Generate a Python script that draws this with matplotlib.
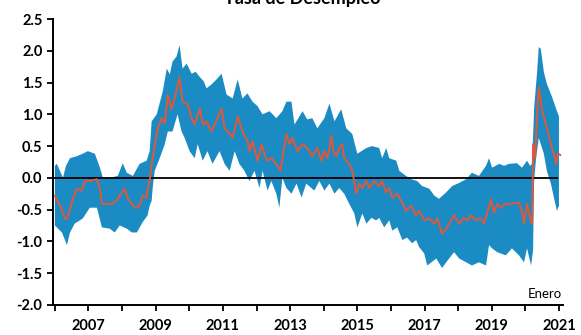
import matplotlib.pyplot as plt

plt.rcParams['font.family'] = ['Lato', 'DejaVu Sans']
plt.rcParams['axes.unicode_minus'] = False

# central estimate (decimal year, value)
mid_t = [2006.00, 2006.15, 2006.30, 2006.36, 2006.50, 2006.65, 2006.80, 2006.89, 2007.04, 2007.25,
         2007.34, 2007.40, 2007.57, 2007.72, 2007.87, 2008.08, 2008.17, 2008.38, 2008.52, 2008.61,
         2008.73, 2008.76, 2008.82, 2008.88, 2008.97, 2009.06, 2009.18, 2009.27, 2009.36, 2009.47,
         2009.56, 2009.71, 2009.80, 2009.95, 2010.07, 2010.16, 2010.31, 2010.40, 2010.51, 2010.66,
         2010.75, 2010.96, 2011.05, 2011.20, 2011.29, 2011.44, 2011.58, 2011.73, 2011.79, 2011.88,
         2012.03, 2012.15, 2012.30, 2012.44, 2012.59, 2012.71, 2012.89, 2012.98, 2013.07, 2013.22,
         2013.37, 2013.51, 2013.66, 2013.81, 2013.93, 2014.02, 2014.11, 2014.23, 2014.29, 2014.38,
         2014.46, 2014.55, 2014.61, 2014.76, 2014.85, 2014.97, 2015.06, 2015.15, 2015.27, 2015.36,
         2015.50, 2015.65, 2015.74, 2015.86, 2015.95, 2016.04, 2016.19, 2016.34, 2016.45, 2016.60,
         2016.75, 2016.84, 2016.99, 2017.14, 2017.29, 2017.38, 2017.52, 2017.67, 2017.88, 2018.03,
         2018.18, 2018.27, 2018.38, 2018.53, 2018.68, 2018.77, 2018.86, 2018.98, 2019.07, 2019.16,
         2019.28, 2019.42, 2019.60, 2019.81, 2019.90, 2019.96, 2020.05, 2020.17, 2020.20, 2020.23,
         2020.29, 2020.35, 2020.40, 2020.49, 2020.61, 2020.76, 2020.85, 2020.91, 2020.97, 2021.04]
mid_v = [-0.28, -0.44, -0.64, -0.64, -0.39, -0.17, -0.20, -0.05, -0.05, -0.02,
         -0.17, -0.41, -0.41, -0.41, -0.33, -0.17, -0.33, -0.47, -0.44, -0.28,
         -0.31, -0.17, -0.05, 0.22, 0.50, 0.78, 0.94, 0.86, 1.30, 1.08,
         1.25, 1.58, 1.20, 1.16, 0.94, 0.84, 1.09, 0.84, 0.89, 0.73,
         0.84, 1.09, 0.78, 0.70, 0.63, 0.97, 0.73, 0.58, 0.42, 0.58,
         0.27, 0.53, 0.27, 0.31, 0.22, 0.11, 0.69, 0.53, 0.63, 0.42,
         0.53, 0.47, 0.34, 0.47, 0.27, 0.42, 0.31, 0.66, 0.42, 0.34,
         0.47, 0.53, 0.31, 0.22, 0.11, -0.25, -0.09, -0.16, -0.05, -0.16,
         -0.05, -0.13, -0.05, -0.23, -0.16, -0.31, -0.25, -0.39, -0.52, -0.44,
         -0.59, -0.52, -0.67, -0.64, -0.72, -0.64, -0.88, -0.78, -0.59, -0.72,
         -0.63, -0.67, -0.59, -0.67, -0.64, -0.72, -0.56, -0.34, -0.55, -0.41,
         -0.47, -0.41, -0.41, -0.39, -0.52, -0.72, -0.41, -0.70, -0.72, 0.53,
         0.31, 1.00, 1.42, 1.09, 0.84, 0.53, 0.38, 0.22, 0.38, 0.36]

# upper edge of the band
up_t = [2006.00, 2006.06, 2006.15, 2006.24, 2006.33, 2006.45, 2006.65, 2006.83, 2006.98, 2007.19,
        2007.34, 2007.43, 2007.63, 2007.87, 2008.02, 2008.14, 2008.32, 2008.52, 2008.73, 2008.82,
        2008.88, 2009.03, 2009.21, 2009.33, 2009.42, 2009.50, 2009.62, 2009.71, 2009.80, 2009.92,
        2010.07, 2010.19, 2010.31, 2010.43, 2010.51, 2010.66, 2010.81, 2010.96, 2011.11, 2011.29,
        2011.44, 2011.58, 2011.73, 2011.88, 2012.03, 2012.18, 2012.39, 2012.59, 2012.77, 2012.89,
        2013.04, 2013.13, 2013.28, 2013.37, 2013.51, 2013.66, 2013.81, 2014.02, 2014.17, 2014.32,
        2014.52, 2014.67, 2014.85, 2015.00, 2015.12, 2015.27, 2015.44, 2015.65, 2015.74, 2015.86,
        2015.95, 2016.16, 2016.25, 2016.45, 2016.60, 2016.78, 2016.93, 2017.14, 2017.29, 2017.43,
        2017.64, 2017.82, 2018.03, 2018.24, 2018.41, 2018.62, 2018.83, 2018.92, 2019.01, 2019.22,
        2019.37, 2019.51, 2019.75, 2019.90, 2020.05, 2020.14, 2020.20, 2020.26, 2020.35, 2020.40,
        2020.46, 2020.55, 2020.64, 2020.79, 2020.94, 2021.00]
up_v = [0.19, 0.22, 0.11, 0.00, 0.19, 0.31, 0.34, 0.38, 0.42, 0.38,
        0.16, 0.00, 0.00, 0.03, 0.23, 0.08, 0.03, 0.22, 0.27, 0.42,
        0.89, 1.00, 1.36, 1.72, 1.63, 1.83, 1.91, 2.09, 1.72, 1.80,
        1.64, 1.67, 1.59, 1.52, 1.41, 1.47, 1.55, 1.64, 1.31, 1.25,
        1.55, 1.25, 1.33, 1.20, 1.13, 1.00, 1.05, 0.94, 1.05, 1.20,
        1.20, 0.84, 0.97, 1.05, 0.92, 0.94, 0.78, 0.94, 1.17, 0.89,
        1.08, 0.78, 0.69, 0.38, 0.42, 0.47, 0.50, 0.47, 0.31, 0.47,
        0.31, 0.27, 0.11, 0.03, -0.02, -0.05, -0.13, -0.17, -0.28, -0.33,
        -0.23, -0.13, -0.08, -0.02, 0.08, 0.03, 0.19, 0.31, 0.16, 0.22,
        0.19, 0.22, 0.23, 0.16, 0.27, 0.19, 0.22, 1.09, 1.67, 2.06,
        2.03, 1.67, 1.48, 1.28, 1.05, 0.97]

# lower edge of the band
lo_t = [2006.00, 2006.21, 2006.36, 2006.45, 2006.59, 2006.83, 2007.04, 2007.25, 2007.40, 2007.63,
        2007.78, 2007.93, 2008.14, 2008.29, 2008.44, 2008.61, 2008.76, 2008.82, 2008.88, 2008.91,
        2008.97, 2009.12, 2009.27, 2009.36, 2009.50, 2009.65, 2009.77, 2009.86, 2010.01, 2010.16,
        2010.25, 2010.40, 2010.54, 2010.69, 2010.90, 2011.05, 2011.20, 2011.35, 2011.49, 2011.64,
        2011.79, 2011.94, 2012.09, 2012.18, 2012.33, 2012.44, 2012.59, 2012.68, 2012.77, 2012.89,
        2013.04, 2013.19, 2013.34, 2013.48, 2013.63, 2013.72, 2013.87, 2014.02, 2014.17, 2014.32,
        2014.46, 2014.61, 2014.76, 2014.91, 2015.00, 2015.15, 2015.27, 2015.42, 2015.56, 2015.65,
        2015.80, 2015.95, 2016.04, 2016.19, 2016.34, 2016.48, 2016.63, 2016.75, 2016.84, 2016.99,
        2017.08, 2017.35, 2017.52, 2017.73, 2017.88, 2018.03, 2018.24, 2018.41, 2018.62, 2018.83,
        2018.92, 2019.01, 2019.16, 2019.42, 2019.60, 2019.81, 2019.96, 2020.05, 2020.17, 2020.23,
        2020.26, 2020.32, 2020.40, 2020.55, 2020.64, 2020.76, 2020.85, 2020.94, 2021.00]
lo_v = [-0.75, -0.86, -1.06, -0.86, -0.72, -0.64, -0.47, -0.47, -0.78, -0.80,
        -0.86, -0.75, -0.80, -0.86, -0.86, -0.70, -0.59, -0.44, -0.36, -0.16,
        0.11, 0.31, 0.53, 0.73, 0.73, 1.00, 0.73, 0.63, 0.42, 0.31,
        0.53, 0.27, 0.42, 0.22, 0.42, 0.22, 0.11, 0.42, 0.22, 0.11,
        -0.05, 0.11, -0.16, 0.11, -0.20, -0.05, -0.25, -0.47, 0.00, -0.16,
        -0.25, -0.09, -0.31, -0.09, -0.16, -0.20, -0.05, -0.20, -0.09, -0.25,
        -0.16, -0.25, -0.41, -0.56, -0.78, -0.56, -0.72, -0.63, -0.67, -0.63,
        -0.78, -0.67, -0.83, -0.78, -0.98, -0.94, -1.03, -0.98, -1.09, -1.19,
        -1.38, -1.27, -1.42, -1.27, -1.17, -1.27, -1.33, -1.38, -1.33, -1.38,
        -1.06, -1.11, -1.17, -1.22, -1.11, -1.22, -1.33, -1.11, -1.38, -1.14,
        -0.05, 0.31, 0.63, 0.38, 0.11, -0.09, -0.31, -0.52, -0.44]

years = list(range(2006, 2022))
y_ticks = [-2.0, -1.5, -1.0, -0.5, 0.0, 0.5, 1.0, 1.5, 2.0, 2.5]

blue = '#1b8bc4'
red = '#e0583a'

fig = plt.figure(figsize=(5.81, 3.35), dpi=100)
ax = fig.add_axes([0.091, 0.09, 0.878, 0.853])

# band: upper edge forward, lower edge back
ax.fill(up_t + lo_t[::-1], up_v + lo_v[::-1], color=blue, lw=0, zorder=1)
ax.axhline(0, xmin=0, xmax=0.988, color='black', lw=1.3, zorder=2)
ax.plot(mid_t, mid_v, color=red, lw=1.4, zorder=3)

ax.set_xlim(2005.94, 2021.12)
ax.set_ylim(-2.0, 2.5)
ax.set_xticks(years)
ax.set_xticklabels([str(y) if y % 2 else '' for y in years])
ax.set_yticks(y_ticks)
ax.set_yticklabels(['%.1f' % v for v in y_ticks])
ax.tick_params(direction='out', length=4, width=1.3, labelsize=10.5)
ax.tick_params(axis='x', pad=6)
for lab in ax.get_xticklabels() + ax.get_yticklabels():
    lab.set_fontweight('bold')

for s in ['top', 'right']:
    ax.spines[s].set_visible(False)
for s in ['left', 'bottom']:
    ax.spines[s].set_linewidth(1.4)

ax.text(0.997, 0.018, 'Enero', transform=ax.transAxes, ha='right', va='bottom',
        fontsize=9.5)
fig.text(0.52, 1 - 4 / 335, 'Tasa de Desempleo', ha='center', va='baseline',
         fontsize=13, fontweight='bold')

fig.savefig('out.png', dpi=100)
